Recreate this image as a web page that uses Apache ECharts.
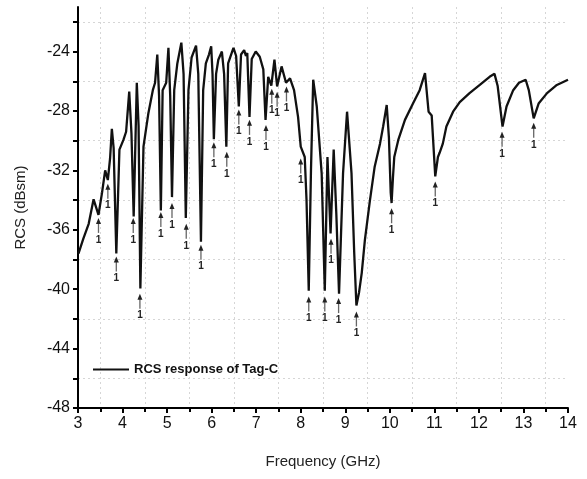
<!DOCTYPE html>
<html>
<head>
<meta charset="utf-8">
<script src="https://cdn.jsdelivr.net/npm/echarts@6/dist/echarts.min.js"></script>
<style>
  html, body { margin: 0; padding: 0; background: #fff; }
  #chart { width: 587px; height: 479px; }
</style>
</head>
<body>
<div id="chart"></div>
<script>
// measured curve: frequency (GHz) and RCS (dBsm)
const freq = [
  3.01, 3.12, 3.24, 3.35, 3.46, 3.54, 3.61, 3.67, 3.72, 3.76, 3.80, 3.86, 3.93, 4.02, 4.08, 4.15,
  4.20, 4.25, 4.32, 4.36, 4.40, 4.47, 4.58, 4.68, 4.73, 4.78, 4.82, 4.86, 4.90, 4.98, 5.03, 5.07,
  5.11, 5.16, 5.23, 5.32, 5.37, 5.42, 5.48, 5.55, 5.65, 5.70, 5.76, 5.81, 5.87, 5.94, 5.99, 6.02,
  6.05, 6.10, 6.15, 6.23, 6.28, 6.33, 6.37, 6.49, 6.55, 6.61, 6.66, 6.73, 6.77, 6.80, 6.85, 6.90,
  6.99, 7.08, 7.16, 7.21, 7.27, 7.34, 7.41, 7.47, 7.57, 7.67, 7.76, 7.85, 7.94, 8.00, 8.04, 8.09,
  8.13, 8.18, 8.23, 8.28, 8.36, 8.47, 8.54, 8.60, 8.67, 8.74, 8.80, 8.86, 8.95, 9.04, 9.14, 9.20,
  9.25, 9.31, 9.37, 9.44, 9.55, 9.66, 9.78, 9.85, 9.93, 9.98, 10.02, 10.04, 10.07, 10.10, 10.19, 10.34,
  10.52, 10.67, 10.79, 10.87, 10.94, 11.02, 11.08, 11.12, 11.19, 11.27, 11.42, 11.57, 11.79, 12.02, 12.24, 12.35,
  12.42, 12.53, 12.62, 12.77, 12.90, 13.05, 13.12, 13.23, 13.34, 13.53, 13.75, 14.0
];
const rcs = [
  -37.6, -36.6, -35.6, -33.95, -35.0, -33.5, -32.0, -32.65, -31.2, -29.2, -30.5, -37.6, -30.6, -29.95, -29.4, -26.7,
  -29.5, -35.1, -26.1, -29.0, -39.95, -30.4, -28.15, -26.6, -26.1, -24.2, -27.0, -34.7, -26.6, -26.1, -23.75, -27.0,
  -33.8, -26.6, -24.8, -23.4, -25.5, -35.2, -26.6, -24.4, -23.6, -25.5, -36.8, -26.6, -24.8, -24.2, -23.65, -25.5,
  -29.9, -25.5, -24.55, -24.0, -25.5, -30.4, -24.8, -23.75, -24.3, -27.7, -24.2, -23.9, -24.3, -24.1, -28.4, -24.5,
  -24.0, -24.35, -25.2, -28.6, -25.7, -26.3, -24.55, -26.35, -25.0, -26.1, -25.8, -26.6, -28.4, -30.4, -30.5, -31.1,
  -34.0, -40.1, -32.0, -25.9, -27.7, -32.2, -40.1, -31.1, -36.25, -30.6, -35.0, -40.3, -32.2, -28.05, -32.2, -37.5,
  -41.1, -40.2, -38.9, -36.7, -34.1, -31.75, -30.2, -29.05, -27.6, -29.8, -33.5, -34.2, -32.5, -31.1, -29.95, -28.6,
  -27.5, -26.6, -25.45, -28.05, -28.3, -32.4, -31.1, -30.8, -30.2, -29.05, -28.05, -27.4, -26.8, -26.25, -25.7, -25.5,
  -26.3, -29.05, -27.7, -26.6, -26.1, -25.9, -26.6, -28.5, -27.5, -26.8, -26.25, -25.9
];

// "1" markers under each resonance dip: frequency and arrow tip level
const arrowFreq = [
  3.46, 3.67, 3.86, 4.24, 4.39, 4.86, 5.11, 5.43, 5.76, 6.05, 6.34, 6.61, 6.85, 7.22,
  7.35, 7.47, 7.68, 8.0, 8.18, 8.54, 8.68, 8.85, 9.25, 10.04, 11.02, 12.52, 13.23
];
const arrowTip = [
  -35.2, -32.9, -37.8, -35.2, -40.3, -34.8, -34.2, -35.6, -37.0, -30.1, -30.75, -27.9, -28.6, -28.95,
  -26.5, -26.7, -26.35, -31.2, -40.5, -40.5, -36.6, -40.6, -41.5, -34.55, -32.75, -29.4, -28.8
];
const arrowLabel = '1';

const yLabels = [-48, -44, -40, -36, -32, -28, -24];
const yTicks = [-48, -46, -44, -42, -40, -38, -36, -34, -32, -30, -28, -26, -24, -22];

const chart = echarts.init(document.getElementById('chart'), null, { renderer: 'canvas' });

const font = 'Liberation Sans';

const option = {
  animation: false,
  grid: { left: 78, right: 19, top: 7, bottom: 71 },
  legend: {
    left: 88,
    top: 358,
    icon: 'rect',
    itemWidth: 36,
    itemHeight: 2,
    itemGap: 6,
    textStyle: { fontFamily: font, fontSize: 13, fontWeight: 'bold', color: '#111' },
    data: ['RCS response of Tag-C']
  },
  xAxis: {
    type: 'value',
    min: 3,
    max: 14,
    interval: 1,
    name: 'Frequency (GHz)',
    nameLocation: 'middle',
    nameGap: 46,
    nameTextStyle: { fontFamily: font, fontSize: 15, color: '#222' },
    axisLine: { lineStyle: { color: '#000', width: 2 } },
    axisTick: { inside: false, length: 5, lineStyle: { color: '#000', width: 2 } },
    minorTick: { show: true, splitNumber: 2, length: 4, lineStyle: { color: '#000', width: 2 } },
    axisLabel: { fontFamily: font, fontSize: 16, color: '#111', margin: 8 },
    splitLine: { show: false },
    minorSplitLine: { show: true, lineStyle: { color: '#d6d6d6', type: [2, 3], width: 1 } }
  },
  yAxis: {
    type: 'value',
    min: -48,
    max: -21,
    interval: 4,
    name: 'RCS (dBsm)',
    nameLocation: 'middle',
    nameGap: 50,
    nameTextStyle: { fontFamily: font, fontSize: 15, color: '#222' },
    axisLine: { show: true, lineStyle: { color: '#000', width: 2 } },
    axisTick: { show: true, length: 5, customValues: yTicks, lineStyle: { color: '#000', width: 2 } },
    axisLabel: { fontFamily: font, fontSize: 16, color: '#111', margin: 8, customValues: yLabels },
    splitLine: { show: false },
    minorTick: { show: false, splitNumber: 2 },
    minorSplitLine: { show: true, lineStyle: { color: '#d6d6d6', type: [2, 3], width: 1 } }
  },
  series: [
    {
      name: 'RCS response of Tag-C',
      type: 'line',
      symbol: 'none',
      smooth: false,
      data: freq.map((f, i) => [f, rcs[i]]),
      lineStyle: { color: '#111', width: 2.3 },
      itemStyle: { color: '#111' }
    },
    {
      name: 'markers',
      type: 'custom',
      silent: true,
      data: arrowFreq.map((f, i) => [f, arrowTip[i]]),
      renderItem: (params, api) => {
        const p = api.coord([api.value(0), api.value(1)]);
        const x = p[0];
        const y = p[1];
        return {
          type: 'group',
          children: [
            { type: 'line', shape: { x1: x, y1: y + 4, x2: x, y2: y + 15 }, style: { stroke: '#666', lineWidth: 1.3 } },
            { type: 'polygon', shape: { points: [[x, y], [x - 2.5, y + 6], [x + 2.5, y + 6]] }, style: { fill: '#222' } },
            { type: 'text', style: { text: arrowLabel, x: x, y: y + 22, align: 'center', verticalAlign: 'middle', font: 'bold 10px "Liberation Sans"', fill: '#222' } }
          ]
        };
      }
    }
  ]
};

chart.setOption(option);
</script>
</body>
</html>
